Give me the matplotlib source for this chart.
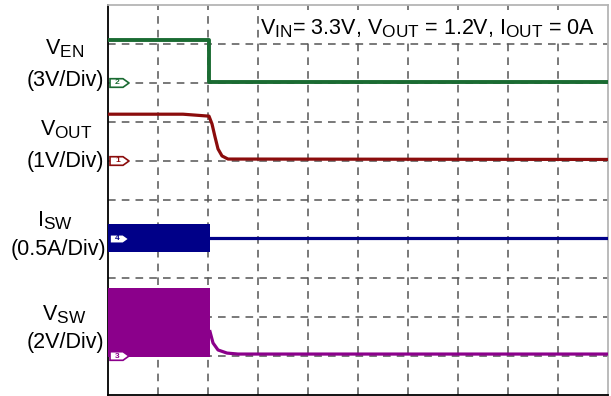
import numpy as np
import matplotlib.pyplot as plt
import matplotlib._mathtext as mathtext_internal
from matplotlib.patches import Polygon

plt.rcParams['font.family'] = ['Liberation Sans', 'DejaVu Sans']
plt.rcParams['mathtext.fontset'] = 'custom'
plt.rcParams['mathtext.rm'] = 'Liberation Sans'
plt.rcParams['mathtext.default'] = 'regular'
# larger subscripts than the mathtext default
mathtext_internal.SHRINK_FACTOR = 0.8

# time axis in scope divisions
# V_EN (3 V/div, ground at div 8)
t_en = [0, 2.02, 2.02, 10]
v_en = [3.3, 3.3, 0.1, 0.1]

# V_OUT (1 V/div, ground at div 6)
t_out = [0, 1.5, 2.02, 2.08, 2.14, 2.20, 2.28, 2.40, 10]
v_out = [1.2, 1.2, 1.15, 0.95, 0.62, 0.31, 0.13, 0.05, 0.04]

# I_SW (0.5 A/div, ground at div 4): ripple band while switching, then ~0
t_isw_band = [0, 2.04]
isw_hi = [0.19, 0.19]
isw_lo = [-0.17, -0.17]
t_isw = [2.04, 10]
isw = [0.01, 0.01]

# V_SW (2 V/div, ground at div 1)
t_sw_band = [0, 2.04]
vsw_hi = [3.5, 3.5]
vsw_lo = [-0.05, -0.05]
t_sw = [2.04, 2.10, 2.20, 2.38, 2.60, 10]
vsw = [1.25, 0.67, 0.31, 0.15, 0.10, 0.10]

grounds = [8.0, 6.0, 4.0, 1.0]
scales = [3.0, 1.0, 0.5, 2.0]
colors = ['#1a6b32', '#8b0c0c', '#000088', '#8b008b']
chan_ids = ['2', '1', '4', '3']

names = ['V$_{EN}$', 'V$_{OUT}$', 'I$_{SW}$', 'V$_{SW}$']
divs = ['(3V/Div)', '(1V/Div)', '(0.5A/Div)', '(2V/Div)']

W, H = 611, 396
fig = plt.figure(figsize=(W / 100, H / 100), dpi=100)
ax = fig.add_axes([108 / W, 1 / H, 500 / W, 390 / H])
ax.set_xlim(0, 10)
ax.set_ylim(0, 10)
ax.set_xticks(np.arange(1, 10))
ax.set_yticks(np.arange(1, 10))
ax.tick_params(length=0, labelbottom=False, labelleft=False)
ax.grid(True, color='#555555', lw=1.1, ls=(0, (5, 4)))
for side in ['left', 'bottom']:
    ax.spines[side].set_color('black')
    ax.spines[side].set_linewidth(1.3)
for side in ['top', 'right']:
    ax.spines[side].set_color('#b5b5b5')
    ax.spines[side].set_linewidth(1.3)

g_en, g_out, g_isw, g_sw = grounds
s_en, s_out, s_isw, s_sw = scales
c_en, c_out, c_isw, c_sw = colors

ax.plot(t_en, g_en + np.array(v_en) / s_en, color=c_en, lw=2.8, zorder=3)
ax.plot(t_out, g_out + np.array(v_out) / s_out, color=c_out, lw=2.3, zorder=3)
ax.fill_between(t_isw_band, g_isw + np.array(isw_hi) / s_isw,
                g_isw + np.array(isw_lo) / s_isw, color=c_isw, lw=0, zorder=3)
ax.plot(t_isw, g_isw + np.array(isw) / s_isw, color=c_isw, lw=2.3, zorder=3)
ax.fill_between(t_sw_band, g_sw + np.array(vsw_hi) / s_sw,
                g_sw + np.array(vsw_lo) / s_sw, color=c_sw, lw=0, zorder=3)
ax.plot(t_sw, g_sw + np.array(vsw) / s_sw, color=c_sw, lw=2.3, zorder=3)

# channel ground flags on the left edge
for g, c, cid in zip(grounds, colors, chan_ids):
    flag = Polygon([[0.04, g - 0.11], [0.3, g - 0.11], [0.42, g],
                    [0.3, g + 0.11], [0.04, g + 0.11]], closed=True,
                   facecolor='white', edgecolor=c, lw=1.2, zorder=4)
    ax.add_patch(flag)
    ax.text(0.19, g, cid, color=c, fontsize=6, fontweight='bold',
            ha='center', va='center', zorder=5)

ax.text(9.75, 9.25, 'V$_{IN}$= 3.3V, V$_{OUT}$ = 1.2V, I$_{OUT}$ = 0A',
        fontsize=15.5, ha='right', va='baseline', zorder=6,
        bbox=dict(facecolor='white', edgecolor='none', pad=1))

# channel labels left of the screen
name_pos = [(65, 54), (66.5, 135), (55, 226), (64, 320)]
div_pos = [(65.5, 86), (65.5, 167), (58.5, 255), (65.5, 348)]
for nm, dv, (nx, ny), (dx, dy) in zip(names, divs, name_pos, div_pos):
    fig.text(nx / W, 1 - ny / H, nm, fontsize=15.5, ha='center', va='baseline')
    fig.text(dx / W, 1 - dy / H, dv, fontsize=15.5, ha='center', va='baseline')

fig.savefig('out.png', dpi=100)
